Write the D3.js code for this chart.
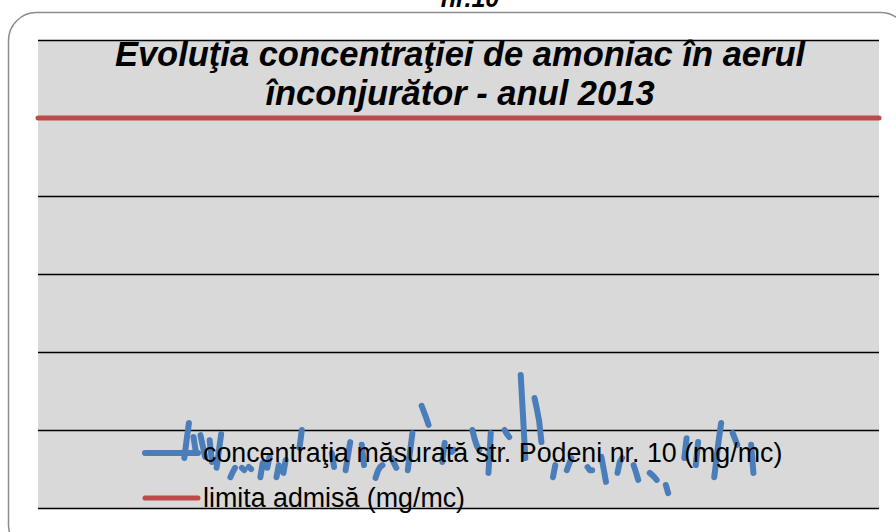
<!DOCTYPE html>
<html>
<head>
<meta charset="utf-8">
<script src="https://cdn.jsdelivr.net/npm/d3@7"></script>
<style>
  html, body { margin: 0; padding: 0; background: #fff; }
  svg { display: block; font-family: "Liberation Sans", Arial, sans-serif; }
</style>
</head>
<body>
<svg id="chart"></svg>
<script>
// chart text
var topText = "nr.10";
var titleLines = ["Evoluţia concentraţiei de amoniac în aerul", "înconjurător - anul 2013"];
var seriesNames = ["concentraţia măsurată str. Podeni nr. 10 (mg/mc)", "limita admisă (mg/mc)"];

// y axis (mg/mc)
var yTicks = [0, 0.02, 0.04, 0.06, 0.08, 0.1, 0.12];
var limitValue = 0.1;

// measured values, 2013, day of year -> runs of consecutive days (gaps = no data)
var runStart = [63, 67, 70, 74, 77, 83, 88, 91, 96, 99, 103, 106, 113, 127, 133, 140, 146, 153, 160, 166,
                175, 179, 188, 195, 202, 209, 215, 223, 229, 238, 244, 251, 258, 265, 272, 280, 285, 293, 301, 309];
var runValues = [
  [0.0128, 0.0174, 0.0218],
  [0.0182, 0.0144],
  [0.0187, 0.0159, 0.0131],
  [0.0174, 0.0118],
  [0.0103, 0.0146, 0.0190],
  [0.0079, 0.0092, 0.0103],
  [0.0103, 0.0097],
  [0.0105, 0.0100],
  [0.0079, 0.0115],
  [0.0103, 0.0131],
  [0.0079, 0.0110],
  [0.0090, 0.0123],
  [0.0154, 0.0200],
  [0.0141, 0.0105],
  [0.0097, 0.0133, 0.0169],
  [0.0162, 0.0110],
  [0.0077, 0.0095, 0.0105, 0.0110],
  [0.0128, 0.0115, 0.0103],
  [0.0097, 0.0146, 0.0192],
  [0.0262, 0.0246, 0.0231, 0.0213],
  [0.0118, 0.0167],
  [0.0144, 0.0149],
  [0.0200, 0.0177, 0.0159, 0.0149],
  [0.0090, 0.0192],
  [0.0200, 0.0190, 0.0182],
  [0.0341, 0.0236, 0.0128],
  [0.0282, 0.0254, 0.0223, 0.0169],
  [0.0079, 0.0110],
  [0.0097, 0.0113, 0.0128],
  [0.0105, 0.0097, 0.0097],
  [0.0131, 0.0100, 0.0067],
  [0.0090, 0.0118, 0.0128],
  [0.0110, 0.0092, 0.0072],
  [0.0090, 0.0085, 0.0079, 0.0072],
  [0.0059, 0.0038],
  [0.0128, 0.0179],
  [0.0110, 0.0169],
  [0.0079, 0.0128, 0.0177, 0.0218],
  [0.0192, 0.0177, 0.0162],
  [0.0162, 0.0090]
];
var nDays = 365;

var blue = "#4a7ebb", red = "#be4b48";

var W = 896, H = 532;
var plot = {left: 38, right: 879, top: 40, bottom: 508};

var svg = d3.select("#chart").attr("width", W).attr("height", H);

// daily series with nulls
var daily = d3.range(nDays).map(function (d) { return null; });
runStart.forEach(function (s, i) {
    runValues[i].forEach(function (v, j) { daily[s + j] = v; });
});

var x = d3.scaleLinear().domain([-0.5, nDays - 0.5]).range([plot.left, plot.right]);
var y = d3.scaleLinear().domain([0, 0.12]).range([plot.bottom, plot.top]);

// outer chart frame (rounded)
svg.append("rect")
    .attr("x", 8.5).attr("y", 12.5)
    .attr("width", 900).attr("height", 540)
    .attr("rx", 28).attr("ry", 28)
    .style("fill", "#fff")
    .style("stroke", "#8c8c8c")
    .style("stroke-width", 1.5);

// text cut off at the very top (it is cut in the original too)
svg.append("text")
    .attr("x", 470).attr("y", 7)
    .attr("text-anchor", "middle")
    .style("font-size", "25px").style("font-weight", "bold").style("font-style", "italic")
    .text(topText);

// plot area
svg.append("rect")
    .attr("x", plot.left).attr("y", plot.top)
    .attr("width", plot.right - plot.left).attr("height", plot.bottom - plot.top)
    .style("fill", "#d9d9d9");

// gridlines
var grid = svg.append("g")
    .attr("transform", "translate(" + plot.left + ",0)")
    .call(d3.axisLeft(y).tickValues(yTicks).tickSize(-(plot.right - plot.left)).tickFormat(""));
grid.select(".domain").remove();
grid.selectAll(".tick line").style("stroke", "#000").style("stroke-width", 1.6);

// limit line
svg.append("line")
    .attr("x1", plot.left).attr("x2", plot.right)
    .attr("y1", y(limitValue)).attr("y2", y(limitValue))
    .style("stroke", red).style("stroke-width", 5).style("stroke-linecap", "round");

// measured series
var line = d3.line()
    .defined(function (d) { return d != null; })
    .x(function (d, i) { return x(i); })
    .y(function (d) { return y(d); });

svg.append("path")
    .datum(daily)
    .attr("d", line)
    .style("fill", "none")
    .style("stroke", blue)
    .style("stroke-width", 6)
    .style("stroke-linecap", "round")
    .style("stroke-linejoin", "round");

// legend
var legend = svg.append("g");
var legendColors = [blue, red];
var legendWidths = [6, 5];
seriesNames.forEach(function (name, i) {
    var ly = 453 + i * 45;
    legend.append("line")
        .attr("x1", 145).attr("x2", 198)
        .attr("y1", ly).attr("y2", ly)
        .style("stroke", legendColors[i]).style("stroke-width", legendWidths[i]).style("stroke-linecap", "round");
    legend.append("text")
        .attr("x", 203).attr("y", ly + 9)
        .style("font-size", "26.8px")
        .style("fill", "#000")
        .text(name);
});

// title
svg.append("g").selectAll("text")
    .data(titleLines)
    .enter().append("text")
    .attr("x", 460)
    .attr("y", function (d, i) { return 66 + i * 39; })
    .attr("text-anchor", "middle")
    .style("font-size", "34.5px").style("font-weight", "bold").style("font-style", "italic")
    .text(function (d) { return d; });
</script>
</body>
</html>
